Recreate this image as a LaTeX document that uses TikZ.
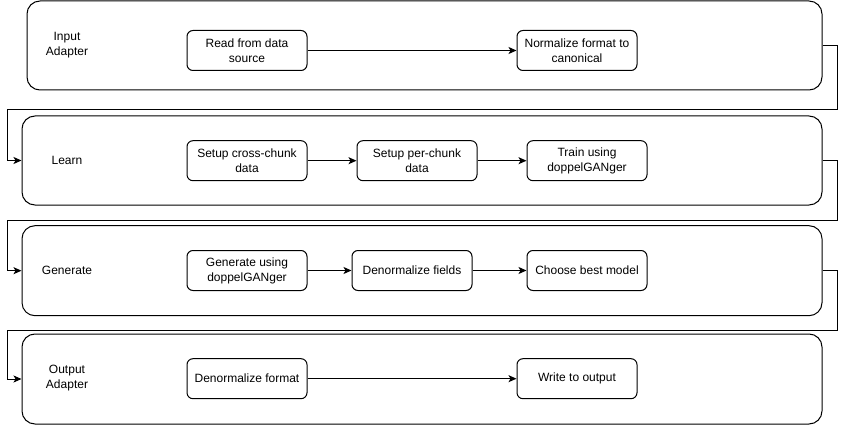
\documentclass[tikz,border=0pt]{standalone}
\usepackage{fontspec}
\setmainfont{Liberation Sans}
\usetikzlibrary{arrows.meta}

\begin{document}
\begin{tikzpicture}[x=1pt, y=-1pt, line width=1pt,
	stage/.style={draw, rounded corners=13pt, inner sep=0pt},
	task/.style={draw, rounded corners=6pt, minimum width=120pt, minimum height=40pt, align=center, inner sep=1pt, font=\fontsize{12}{15}\selectfont},
	phase/.style={align=center, font=\fontsize{12}{15}\selectfont},
	flow/.style={-{Stealth[length=8pt, width=7pt, inset=2pt]}}]
	%%%%% START %%%%%
	
	\useasboundingbox (0, 0) rectangle (846, 425);
	
	\node[stage, minimum width=795pt, minimum height=89pt] (s1) at (424.5, 45.5) {};
	\node[stage, minimum width=800pt, minimum height=89pt] (s2) at (422, 160.5) {};
	\node[stage, minimum width=800pt, minimum height=90pt] (s3) at (422, 270.7) {};
	\node[stage, minimum width=800pt, minimum height=90pt] (s4) at (422, 379) {};
	
	\node[phase] (l1) at (67, 45.5) {Input\\Adapter};
	\node[phase] (l2) at (67, 160.5) {Learn};
	\node[phase] (l3) at (67, 270.7) {Generate};
	\node[phase] (l4) at (67, 378.5) {Output\\Adapter};
	
	\node[task] (read) at (247, 50.5) {Read from data\\source};
	\node[task] (norm) at (577, 50.5) {Normalize format to\\canonical};
	
	\node[task] (cross) at (247, 160.7) {Setup cross-chunk\\data};
	\node[task] (per) at (417, 160.7) {Setup per-chunk\\data};
	\node[task] (train) at (587, 160.7) {Train using\\doppelGANger};
	
	\node[task] (gen) at (247, 270.5) {Generate using\\doppelGANger};
	\node[task] (denf) at (412, 270.5) {Denormalize fields};
	\node[task] (best) at (587, 270.5) {Choose best model};
	
	\node[task] (denfmt) at (247, 378.7) {Denormalize format};
	\node[task] (write) at (577, 378.7) {Write to output};
	
	\draw[flow] (read) -- (norm);
	\draw[flow] (cross) -- (per);
	\draw[flow] (per) -- (train);
	\draw[flow] (gen) -- (denf);
	\draw[flow] (denf) -- (best);
	\draw[flow] (denfmt) -- (write);
	
	\foreach \a/\b/\y in {s1/s2/110, s2/s3/220, s3/s4/330}
		\draw[flow] (\a.east) -| (837, \y) -- (7, \y) |- (\b.west);
	
	%%%%% END %%%%%
\end{tikzpicture}
\end{document}
